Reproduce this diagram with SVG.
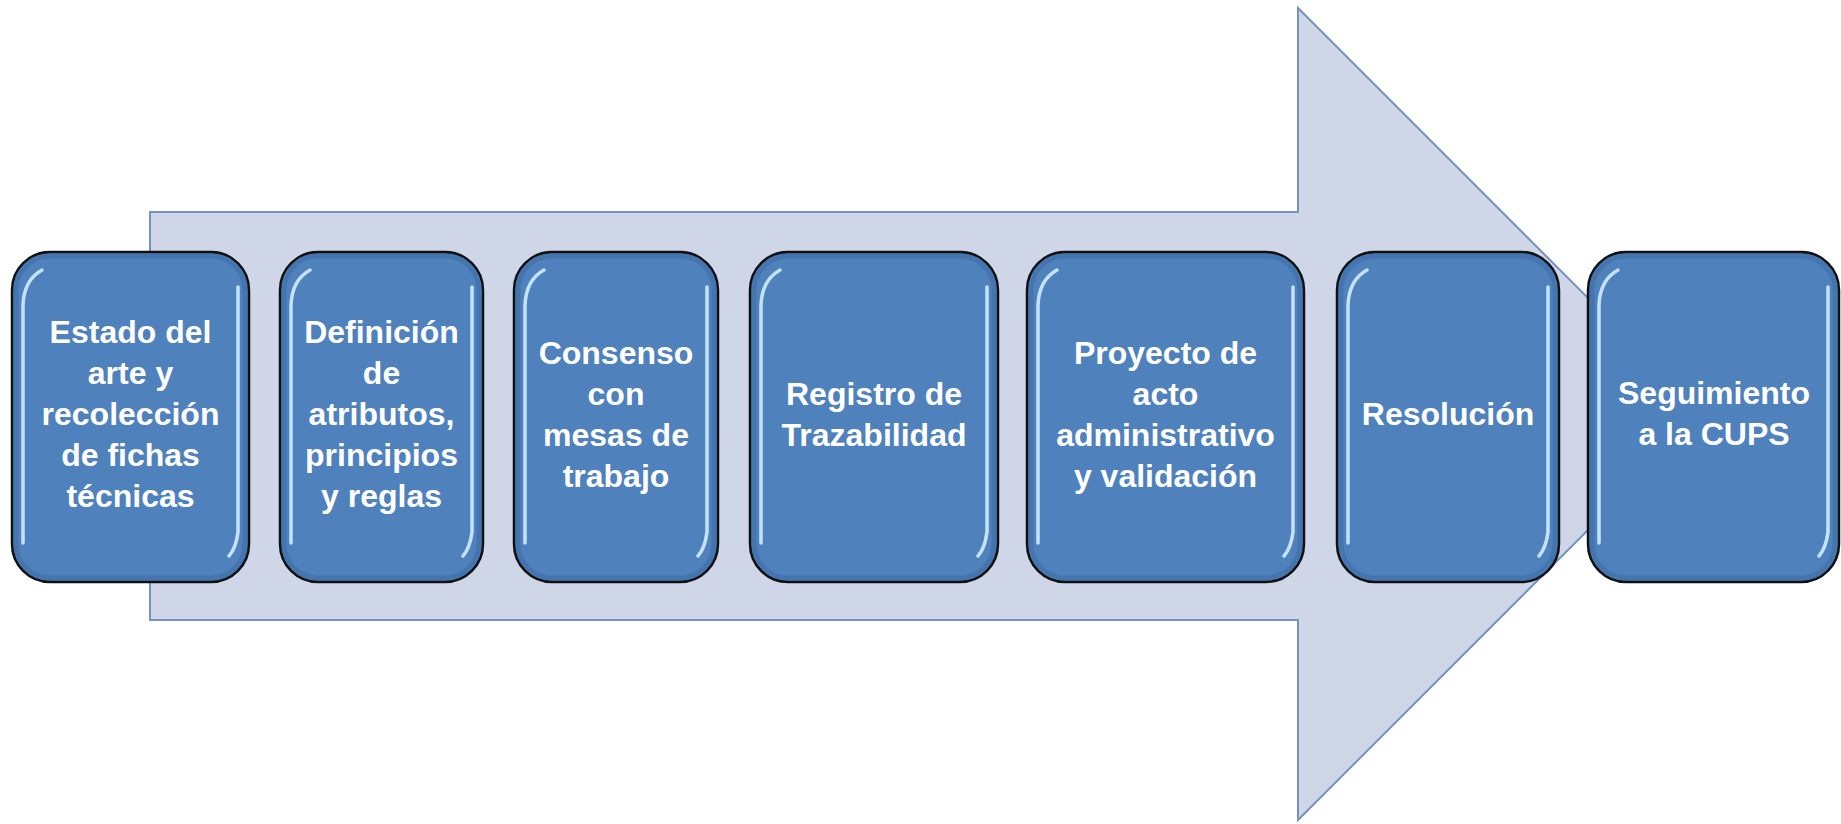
<svg xmlns="http://www.w3.org/2000/svg" width="1841" height="824" viewBox="0 0 1841 824">
<style>
.box{fill:#4F81BD;stroke:#111;stroke-width:2.5}
.inner{fill:none;stroke:#3A679E;stroke-width:5;opacity:0.45}
.hl{fill:none;stroke:#C9E8FF;stroke-width:3.5;stroke-linecap:round;opacity:0.95}
.lbl{font-family:"Liberation Sans",Arial,sans-serif;font-weight:bold;font-size:32px;fill:#FFFFFF;text-anchor:middle}
</style>
<rect width="1841" height="824" fill="#FFFFFF"/>
<g id="arrow">
<polygon points="150,212 1298,212 1298,8 1704,414 1298,820 1298,620 150,620" fill="#CFD6E7" stroke="#7393C4" stroke-width="2"/>
</g>
<g id="connectors"></g>
<g id="node1">
<rect class="box" x="12" y="252" width="237" height="330" rx="38"/>
<rect class="inner" x="16" y="256" width="229" height="322" rx="34"/>
<path class="hl" d="M42,270 Q24,280 23,305 L23,543"/>
<path class="hl" d="M238,287 L238,532 Q236,548 229,556"/>
<text class="lbl" x="130.5"><tspan x="130.5" y="343">Estado del</tspan><tspan x="130.5" y="384">arte y</tspan><tspan x="130.5" y="425">recolección</tspan><tspan x="130.5" y="466">de fichas</tspan><tspan x="130.5" y="507">técnicas</tspan></text>
</g>
<g id="node2">
<rect class="box" x="280" y="252" width="203" height="330" rx="38"/>
<rect class="inner" x="284" y="256" width="195" height="322" rx="34"/>
<path class="hl" d="M310,270 Q292,280 291,305 L291,543"/>
<path class="hl" d="M472,287 L472,532 Q470,548 463,556"/>
<text class="lbl"><tspan x="381.5" y="343">Definición</tspan><tspan x="381.5" y="384">de</tspan><tspan x="381.5" y="425">atributos,</tspan><tspan x="381.5" y="466">principios</tspan><tspan x="381.5" y="507">y reglas</tspan></text>
</g>
<g id="node3">
<rect class="box" x="514" y="252" width="204" height="330" rx="38"/>
<rect class="inner" x="518" y="256" width="196" height="322" rx="34"/>
<path class="hl" d="M544,270 Q526,280 525,305 L525,543"/>
<path class="hl" d="M707,287 L707,532 Q705,548 698,556"/>
<text class="lbl"><tspan x="616" y="364">Consenso</tspan><tspan x="616" y="405">con</tspan><tspan x="616" y="446">mesas de</tspan><tspan x="616" y="487">trabajo</tspan></text>
</g>
<g id="node4">
<rect class="box" x="750" y="252" width="248" height="330" rx="38"/>
<rect class="inner" x="754" y="256" width="240" height="322" rx="34"/>
<path class="hl" d="M780,270 Q762,280 761,305 L761,543"/>
<path class="hl" d="M987,287 L987,532 Q985,548 978,556"/>
<text class="lbl"><tspan x="874" y="405">Registro de</tspan><tspan x="874" y="446">Trazabilidad</tspan></text>
</g>
<g id="node5">
<rect class="box" x="1027" y="252" width="277" height="330" rx="38"/>
<rect class="inner" x="1031" y="256" width="269" height="322" rx="34"/>
<path class="hl" d="M1057,270 Q1039,280 1038,305 L1038,543"/>
<path class="hl" d="M1293,287 L1293,532 Q1291,548 1284,556"/>
<text class="lbl"><tspan x="1165.5" y="364">Proyecto de</tspan><tspan x="1165.5" y="405">acto</tspan><tspan x="1165.5" y="446">administrativo</tspan><tspan x="1165.5" y="487">y validación</tspan></text>
</g>
<g id="node6">
<rect class="box" x="1337" y="252" width="222" height="330" rx="38"/>
<rect class="inner" x="1341" y="256" width="214" height="322" rx="34"/>
<path class="hl" d="M1367,270 Q1349,280 1348,305 L1348,543"/>
<path class="hl" d="M1548,287 L1548,532 Q1546,548 1539,556"/>
<text class="lbl"><tspan x="1448" y="425">Resolución</tspan></text>
</g>
<g id="node7">
<rect class="box" x="1588" y="252" width="251" height="330" rx="38"/>
<rect class="inner" x="1592" y="256" width="243" height="322" rx="34"/>
<path class="hl" d="M1618,270 Q1600,280 1599,305 L1599,543"/>
<path class="hl" d="M1828,287 L1828,532 Q1826,548 1819,556"/>
<text class="lbl"><tspan x="1714" y="404">Seguimiento</tspan><tspan x="1714" y="445">a la CUPS</tspan></text>
</g>
</svg>
